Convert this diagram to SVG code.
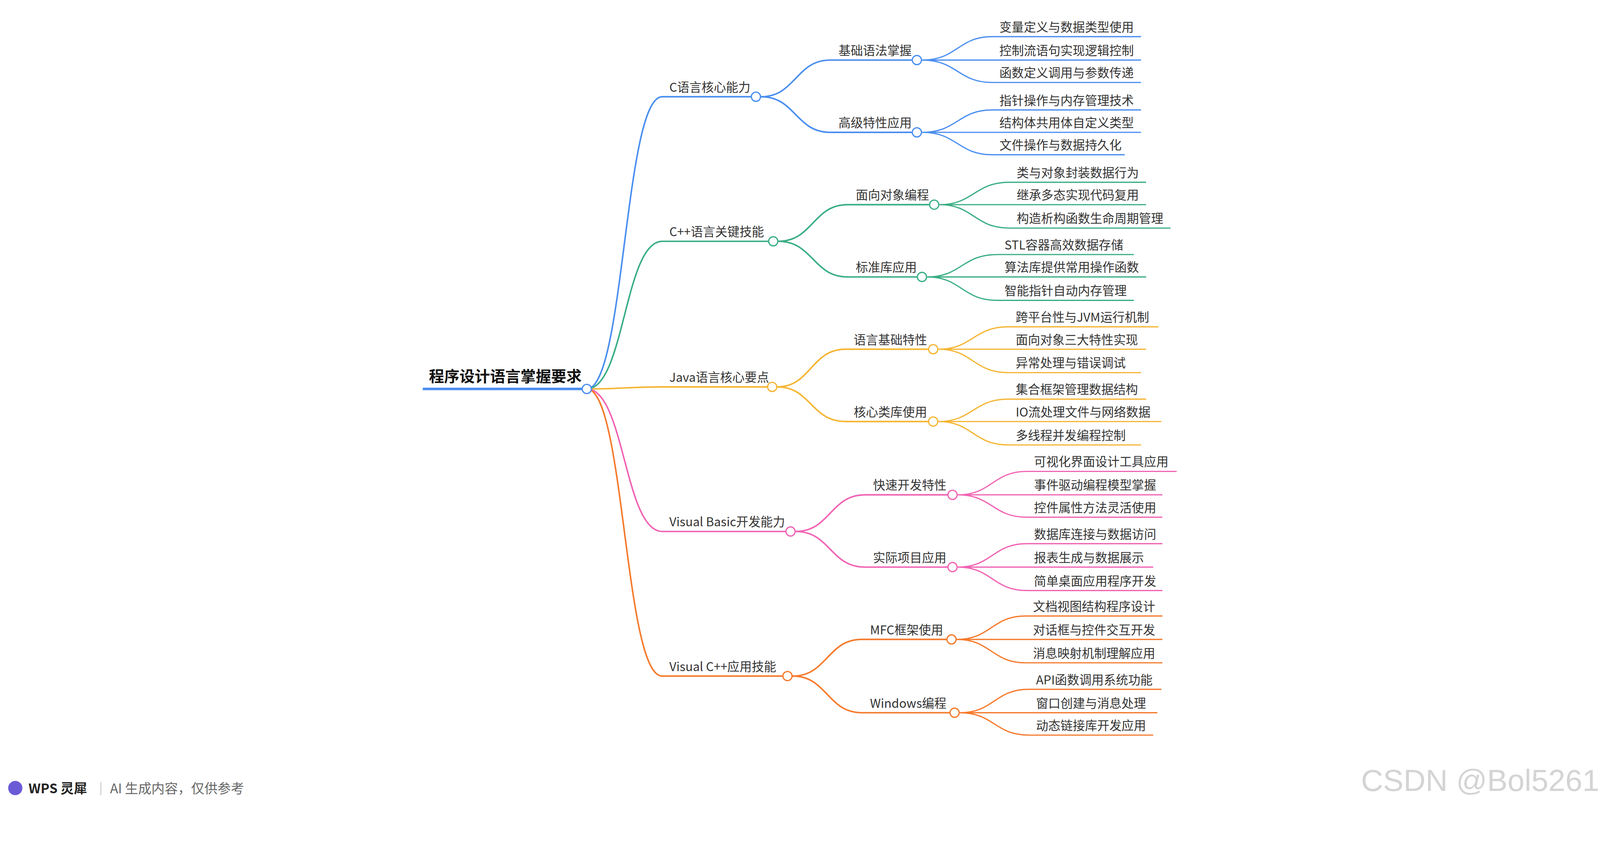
<svg xmlns="http://www.w3.org/2000/svg" width="4380" height="2208" viewBox="0 0 4380 2208">
<style>
text{font-family:"Noto Sans CJK SC","Liberation Sans",sans-serif;font-size:12px;fill:#333}
.r{font-size:15px;font-weight:bold;fill:#111}
path{fill:none;stroke-width:1.2}
.l1{stroke-width:1.5}
.b{stroke:#4a8ef0}.g{stroke:#3aae84}.y{stroke:#f5b533}.p{stroke:#f064b4}.o{stroke:#f57a2c}
circle{fill:#fff;stroke-width:1.2}
</style>
<rect width="4380" height="2208" fill="#fff"/>
<g transform="scale(2.608)">
<g id="connectors">
<path class="b l1" d="M576,382C613,382 613,95 650,95H742"/>
<path class="g l1" d="M576,382C613,382 613,237 650,237H759"/>
<path class="y l1" d="M576,382C613,382 613,380 650,380H758"/>
<path class="p l1" d="M576,382C613,382 613,522 650,522H776"/>
<path class="o l1" d="M576,382C613,382 613,664 650,664H773"/>
<path class="b l1" d="M747,95C781,95 781,59 815,59H900"/>
<path class="b l1" d="M747,95C781,95 781,130 815,130H900"/>
<path class="g l1" d="M764,237C798,237 798,201 832,201H917"/>
<path class="g l1" d="M764,237C798,237 798,272 832,272H905"/>
<path class="y l1" d="M763,380C796,380 796,343 830,343H916"/>
<path class="y l1" d="M763,380C796,380 796,414 830,414H916"/>
<path class="p l1" d="M781,522C815,522 815,486 849,486H935"/>
<path class="p l1" d="M781,522C815,522 815,557 849,557H935"/>
<path class="o l1" d="M778,664C812,664 812,628 846,628H934"/>
<path class="o l1" d="M778,664C812,664 812,700 846,700H937"/>
<path class="b" d="M905,59C940,59 940,36 974,36H1120M905,59H1120M905,59C940,59 940,81 974,81H1120"/>
<path class="b" d="M905,130C940,130 940,108 974,108H1120M905,130H1120M905,130C940,130 940,152 974,152H1104"/>
<path class="g" d="M922,201C956,201 956,179 991,179H1125M922,201H1125M922,201C956,201 956,224 991,224H1149"/>
<path class="g" d="M910,272C944,272 944,250 979,250H1113M910,272H1125M910,272C944,272 944,295 979,295H1113"/>
<path class="y" d="M921,343C955,343 955,321 990,321H1137M921,343H1125M921,343C955,343 955,366 990,366H1120"/>
<path class="y" d="M921,414C955,414 955,392 990,392H1125M921,414H1140M921,414C955,414 955,437 990,437H1120"/>
<path class="p" d="M940,486C974,486 974,463 1008,463H1155M940,486H1141M940,486C974,486 974,508 1008,508H1141"/>
<path class="p" d="M940,557C974,557 974,534 1008,534H1141M940,557H1132M940,557C974,557 974,580 1008,580H1141"/>
<path class="o" d="M939,628C973,628 973,605 1007,605H1141M939,628H1141M939,628C973,628 973,651 1007,651H1141"/>
<path class="o" d="M942,700C976,700 976,677 1010,677H1140M942,700H1136M942,700C976,700 976,722 1010,722H1132"/>
</g>
<g id="root"><path class="b" style="stroke-width:2.5" d="M415,382H576"/><text class="r" x="421" y="375">程序设计语言掌握要求</text><circle class="b" cx="576" cy="382" r="4.5"/></g>
<g id="n-c"><text x="657" y="90">C语言核心能力</text><circle class="b" cx="742" cy="95" r="4.5"/></g>
<g id="n-cpp"><text x="657" y="232">C++语言关键技能</text><circle class="g" cx="759" cy="237" r="4.5"/></g>
<g id="n-java"><text x="657" y="375">Java语言核心要点</text><circle class="y" cx="758" cy="380" r="4.5"/></g>
<g id="n-vb"><text x="657" y="517">Visual Basic开发能力</text><circle class="p" cx="776" cy="522" r="4.5"/></g>
<g id="n-vc"><text x="657" y="659">Visual C++应用技能</text><circle class="o" cx="773" cy="664" r="4.5"/></g>
<g id="n-c1"><text x="823" y="54">基础语法掌握</text><circle class="b" cx="900" cy="59" r="4.5"/></g>
<g id="n-c2"><text x="823" y="125">高级特性应用</text><circle class="b" cx="900" cy="130" r="4.5"/></g>
<g id="n-cpp1"><text x="840" y="196">面向对象编程</text><circle class="g" cx="917" cy="201" r="4.5"/></g>
<g id="n-cpp2"><text x="840" y="267">标准库应用</text><circle class="g" cx="905" cy="272" r="4.5"/></g>
<g id="n-j1"><text x="838" y="338">语言基础特性</text><circle class="y" cx="916" cy="343" r="4.5"/></g>
<g id="n-j2"><text x="838" y="409">核心类库使用</text><circle class="y" cx="916" cy="414" r="4.5"/></g>
<g id="n-vb1"><text x="857" y="481">快速开发特性</text><circle class="p" cx="935" cy="486" r="4.5"/></g>
<g id="n-vb2"><text x="857" y="552">实际项目应用</text><circle class="p" cx="935" cy="557" r="4.5"/></g>
<g id="n-vc1"><text x="854" y="623">MFC框架使用</text><circle class="o" cx="934" cy="628" r="4.5"/></g>
<g id="n-vc2"><text x="854" y="695">Windows编程</text><circle class="o" cx="937" cy="700" r="4.5"/></g>
<g id="leaves">
<text x="981" y="31">变量定义与数据类型使用</text><text x="981" y="54">控制流语句实现逻辑控制</text><text x="981" y="76">函数定义调用与参数传递</text>
<text x="981" y="103">指针操作与内存管理技术</text><text x="981" y="125">结构体共用体自定义类型</text><text x="981" y="147">文件操作与数据持久化</text>
<text x="998" y="174">类与对象封装数据行为</text><text x="998" y="196">继承多态实现代码复用</text><text x="998" y="219">构造析构函数生命周期管理</text>
<text x="986" y="245">STL容器高效数据存储</text><text x="986" y="267">算法库提供常用操作函数</text><text x="986" y="290">智能指针自动内存管理</text>
<text x="997" y="316">跨平台性与JVM运行机制</text><text x="997" y="338">面向对象三大特性实现</text><text x="997" y="361">异常处理与错误调试</text>
<text x="997" y="387">集合框架管理数据结构</text><text x="997" y="409">IO流处理文件与网络数据</text><text x="997" y="432">多线程并发编程控制</text>
<text x="1015" y="458">可视化界面设计工具应用</text><text x="1015" y="481">事件驱动编程模型掌握</text><text x="1015" y="503">控件属性方法灵活使用</text>
<text x="1015" y="529">数据库连接与数据访问</text><text x="1015" y="552">报表生成与数据展示</text><text x="1015" y="575">简单桌面应用程序开发</text>
<text x="1014" y="600">文档视图结构程序设计</text><text x="1014" y="623">对话框与控件交互开发</text><text x="1014" y="646">消息映射机制理解应用</text>
<text x="1017" y="672">API函数调用系统功能</text><text x="1017" y="695">窗口创建与消息处理</text><text x="1017" y="717">动态链接库开发应用</text>
</g>
<g id="footer">
<circle cx="15" cy="774" r="7" style="fill:#6b5bd6;stroke:none"/>
<text x="28" y="779" style="font-size:13px;font-weight:bold;fill:#222">WPS 灵犀</text>
<path d="M99,768V781" style="stroke:#ccc;stroke-width:1"/>
<text x="108" y="779" style="font-size:13px;fill:#666">AI 生成内容，仅供参考</text>
<text x="1336" y="777" style="font-family:'Liberation Sans',sans-serif;font-size:30px;fill:#d4d4d4">CSDN @Bol5261</text>
</g>
</g>
</svg>
